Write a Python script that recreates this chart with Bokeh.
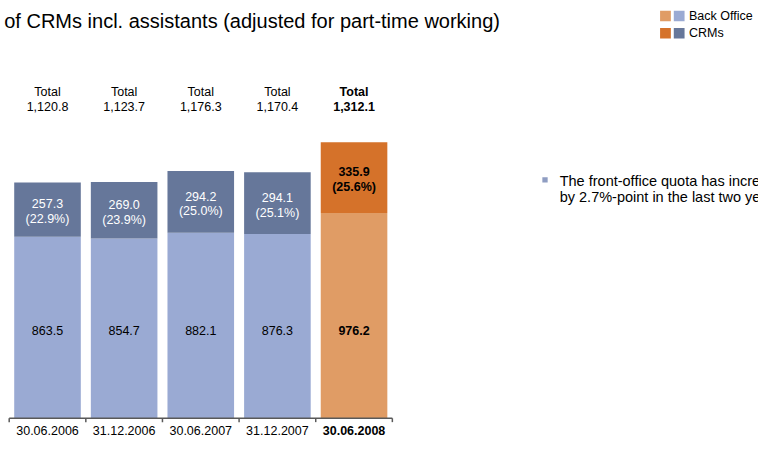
from bokeh.plotting import figure
from bokeh.models import ColumnDataSource, Range1d
from bokeh.core.properties import value
from bokeh.embed import file_html
from bokeh.resources import INLINE

# ---------------- data ----------------
dates = ["30.06.2006", "31.12.2006", "30.06.2007", "31.12.2007", "30.06.2008"]
back_office = [863.5, 854.7, 882.1, 876.3, 976.2]
crms = [257.3, 269.0, 294.2, 294.1, 335.9]
totals = [1120.8, 1123.7, 1176.3, 1170.4, 1312.1]
crm_share = [22.9, 23.9, 25.0, 25.1, 25.6]
highlight = [False, False, False, False, True]

title_text = "of CRMs incl. assistants (adjusted for part-time working)"
note_lines = ["The front-office quota has increased",
              "by 2.7%-point in the last two years"]
legend_labels = ["Back Office", "CRMs"]

# ---------------- styles ----------------
BO_COLOR, CRM_COLOR = "#9AAAD3", "#66779A"
BO_HI, CRM_HI = "#E09C65", "#D5722A"
FONT = value("Liberation Sans")
AXIS_COLOR = "#595959"

W, H = 758, 439              # figure size, fits the window with its 8px margin
RW, RH = 774, 455            # layout designed in these reference units
SX, SY = W / RW, H / RH      # reference unit -> screen pixel


def fs(px):
    return f"{px * SY:.1f}px"


AX = 433                 # reference y of the baseline
TOP = 147                # reference y of the largest total
C0, STEP = 48, 78.25     # reference x of first bar centre, spacing
BAR_W = 68

PX = (AX - TOP) / max(totals)


def dx(rx):
    return (rx - C0) / STEP


def dy(ry):
    return (AX - ry) / PX


n = len(dates)
xs = list(range(n))

src = ColumnDataSource(dict(
    x=xs,
    bo=back_office,
    crm=crms,
    total=totals,
    crm_mid=[b + c / 2 for b, c in zip(back_office, crms)],
    bo_color=[BO_HI if h else BO_COLOR for h in highlight],
    crm_color=[CRM_HI if h else CRM_COLOR for h in highlight],
    style=["bold" if h else "normal" for h in highlight],
    crm_txt_color=["#000000" if h else "#FFFFFF" for h in highlight],
    date=dates,
    total_lbl=[f"{t:,.1f}" for t in totals],
    total_word=["Total"] * n,
    crm_lbl=[f"{c:.1f}" for c in crms],
    share_lbl=[f"({s:.1f}%)" for s in crm_share],
    bo_lbl=[f"{b:.1f}" for b in back_office],
))

p = figure(width=W, height=H,
           x_range=Range1d(dx(0), dx(RW)),
           y_range=Range1d(dy(RH), dy(0)),
           output_backend="svg", toolbar_location=None,
           x_axis_type=None, y_axis_type=None,
           min_border=0, title=None)
p.outline_line_color = None
p.background_fill_color = "white"
p.border_fill_color = "white"

# bars
p.vbar(x="x", bottom=0, top="bo", width=BAR_W / STEP, fill_color="bo_color",
       line_color=None, source=src)
p.vbar(x="x", bottom="bo", top="total", width=BAR_W / STEP, fill_color="crm_color",
       line_color=None, source=src)

# category axis
bounds = [i - 0.5 for i in range(n + 1)]
p.segment(x0=[bounds[0]], x1=[bounds[-1]], y0=[0], y1=[0],
          line_color=AXIS_COLOR, line_width=1.5)
p.segment(x0=bounds, x1=bounds, y0=[0] * len(bounds), y1=[dy(AX + 4)] * len(bounds),
          line_color=AXIS_COLOR, line_width=1.5)
p.text(x="x", y=dy(446), text="date", source=src, text_font=FONT,
       text_font_size=fs(13), text_font_style="style", text_color="#000000",
       text_align="center", text_baseline="middle")

# totals above
p.text(x="x", y=dy(95), text="total_word", source=src, text_font=FONT,
       text_font_size=fs(13), text_font_style="style", text_color="#000000",
       text_align="center", text_baseline="middle")
p.text(x="x", y=dy(110), text="total_lbl", source=src, text_font=FONT,
       text_font_size=fs(13), text_font_style="style", text_color="#000000",
       text_align="center", text_baseline="middle")

# CRM labels
p.text(x="x", y="crm_mid", text="crm_lbl", y_offset=-6 * SY, source=src, text_font=FONT,
       text_font_size=fs(13), text_font_style="style", text_color="crm_txt_color",
       text_align="center", text_baseline="middle")
p.text(x="x", y="crm_mid", text="share_lbl", y_offset=10 * SY, source=src, text_font=FONT,
       text_font_size=fs(13), text_font_style="style", text_color="crm_txt_color",
       text_align="center", text_baseline="middle")

# Back office labels
p.text(x="x", y=dy(342), text="bo_lbl", source=src, text_font=FONT,
       text_font_size=fs(13), text_font_style="style", text_color="#000000",
       text_align="center", text_baseline="middle")

# title
p.text(x=[dx(510)], y=[dy(21)], text=[title_text], text_font=FONT,
       text_font_size=fs(20.7), text_color="#000000",
       text_align="right", text_baseline="middle")

# legend
for row, (lbl, c1, c2) in enumerate(zip(legend_labels, [BO_HI, CRM_HI], [BO_COLOR, CRM_COLOR])):
    ry = 16 + row * 18
    p.rect(x=[dx(679)], y=[dy(ry)], width=11 * SX, height=11 * SY, width_units="screen",
           height_units="screen", fill_color=c1, line_color=None)
    p.rect(x=[dx(693)], y=[dy(ry)], width=11 * SX, height=11 * SY, width_units="screen",
           height_units="screen", fill_color=c2, line_color=None)
    p.text(x=[dx(703)], y=[dy(ry)], text=[lbl], text_font=FONT, text_font_size=fs(13),
           text_color="#000000", text_align="left", text_baseline="middle")

# bullet note
p.scatter(x=[dx(556)], y=[dy(186)], marker="square", size=5.5 * SY,
          fill_color="#8F9DC2", line_color=None)
for i, line in enumerate(note_lines):
    p.text(x=[dx(571)], y=[dy(187 + 17 * i)], text=[line], text_font=FONT,
           text_font_size=fs(15), text_color="#000000", text_align="left",
           text_baseline="middle")

open("out.html", "w").write(file_html(p, INLINE))
